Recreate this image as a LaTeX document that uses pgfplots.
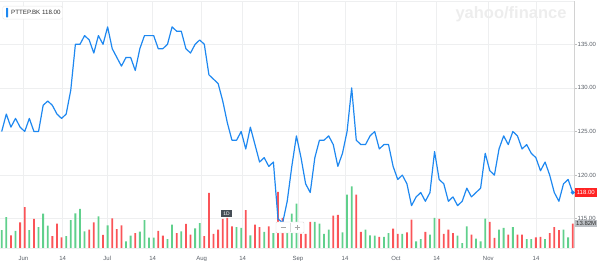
\documentclass[border=0pt]{standalone}
\usepackage{fontspec}
\setmainfont{Liberation Sans}
\usepackage{pgfplots}
\usepackage{pgfplotstable}
\pgfplotsset{compat=1.18}
\definecolor{ylblue}{RGB}{30,136,240}
\definecolor{upg}{RGB}{96,208,140}
\definecolor{dnr}{RGB}{250,84,88}
\definecolor{gridc}{RGB}{238,239,240}
\definecolor{tickc}{RGB}{90,96,104}
\definecolor{redlab}{RGB}{255,35,35}
\definecolor{graylab}{RGB}{188,192,197}

\pgfplotstableread{
i p
0 125
1 127
2 125.5
3 126.5
4 125.5
5 125
6 126.5
7 125
8 125
9 128
10 128.5
11 128
12 127
13 126.5
14 127
15 129.75
16 135
17 135
18 136
19 135.5
20 134
21 136
22 135
23 137
24 134.5
25 133.5
26 132.5
27 133.5
28 133.5
29 132
30 134.5
31 136
32 136
33 136
34 134.5
35 134.5
36 135
37 137
38 136.5
39 136.5
40 134.5
41 134
42 135
43 135.5
44 135
45 131.5
46 131
47 130.5
48 128.5
49 126
50 124
51 124
52 125
53 123
54 125.5
55 123.5
56 121.5
57 122
58 121
59 121.5
60 115
61 114.5
62 117
63 121
64 124.5
65 122
66 119
67 118
68 122
69 124
70 124
71 124.5
72 123.5
73 121
74 122.5
75 125
76 130
77 124
78 123.5
79 123.5
80 124.5
81 125
82 123
83 123.5
84 123.5
85 121
86 119.5
87 120
88 119
89 116.5
90 117.5
91 118
92 117
93 118
94 122.7
95 119.5
96 119
97 117
98 117.5
99 116.5
100 117
101 118.5
102 117.5
103 118
104 118.5
105 122.5
106 120.5
107 120
108 123
109 124.5
110 123.5
111 125
112 124.5
113 123
114 123.5
115 122.5
116 122
117 120.5
118 121.5
119 120
120 118
121 117
122 119
123 119.5
124 118
}\price

\begin{document}
\begin{tikzpicture}
\useasboundingbox (0pt,0pt) rectangle (600pt,261pt);
\pgfplotsset{base/.style={at={(0pt,13pt)}, anchor=south west, width=574pt, height=247pt,
  scale only axis, xmin=-0.37, xmax=124.28}}

% grid + ticks
\begin{axis}[base, ymin=111.64, ymax=139.97,
  axis x line*=bottom, axis y line*=right,
  x axis line style={draw=gridc, -}, y axis line style={draw=gray!35, -},
  xtick={4.73,13.25,22.93,32.79,43.43,52.33,64.34,74.55,85.62,94.46,105.67,116.03},
  xticklabels={Jun,14,Jul,14,Aug,14,Sep,14,Oct,14,Nov,14},
  ytick={115,120,125,130,135},
  xmajorgrids, ymajorgrids, major grid style={draw=gridc, line width=0.6pt},
  tick align=outside, major tick length=2.5pt,
  xtick style={draw=none}, ytick style={draw=gray!50, line width=0.4pt},
  /pgf/number format/assume math mode=true,
  ticklabel style={font=\fontsize{6}{7}\selectfont, text=tickc},
  yticklabel style={/pgf/number format/fixed, /pgf/number format/fixed zerofill,
    /pgf/number format/precision=2, inner sep=1pt},
  xticklabel style={inner sep=0pt, text height=4.6pt, text depth=1.3pt, anchor=north, yshift=-5.5pt},
]
\addplot[draw=none] coordinates {(0,120)};
\end{axis}

% volume
\begin{axis}[base, ymin=0, ymax=140.5, hide axis, ybar, bar width=1.8pt]
\addplot[fill=upg, draw=none, bar shift=0pt] coordinates {
(0,10.1)(1,17.5)(3,9.8)(6,10.1)(8,11.8)(9,19.5)(10,12.7)(14,6.7)(15,15.8)(16,19.7)(17,22.2)(18,9.5)(21,18.0)(23,12.9)(27,3.8)(28,7.0)(30,9.3)(31,15.8)(32,5.9)(33,5.9)(36,5.1)(37,13.3)(39,9.5)(42,11.2)(43,14.2)(51,11.9)(52,11.4)(54,7.2)(57,9.1)(59,8.5)(62,14.2)(63,19.5)(64,25.2)(68,14.8)(69,13.8)(70,8.0)(71,10.4)(74,8.9)(75,30.3)(76,35.1)(79,10.4)(80,7.2)(81,7.0)(83,6.3)(84,8.5)(87,8.1)(90,3.8)(91,5.1)(93,7.6)(94,17.1)(99,7.0)(100,2.8)(101,12.3)(103,5.3)(104,3.8)(105,16.7)(108,10.4)(109,11.4)(111,11.9)(114,5.1)(115,5.1)(118,5.1)(122,10.4)(123,6.1)};
\addplot[fill=dnr, draw=none, bar shift=0pt] coordinates {
(2,7.2)(4,14.6)(5,23.2)(7,16.5)(11,6.7)(12,13.8)(13,6.1)(19,10.4)(20,14.6)(22,7.4)(24,16.9)(25,10.8)(26,12.9)(29,8.5)(34,9.8)(35,7.0)(38,8.5)(40,13.7)(41,7.6)(44,6.7)(45,31.3)(46,8.1)(47,10.4)(48,16.5)(49,17.1)(50,12.3)(53,21.5)(55,13.3)(56,11.8)(58,12.3)(60,31.9)(61,17.1)(65,8.1)(66,8.1)(67,14.8)(72,18.4)(73,18.9)(77,30.3)(78,9.1)(82,6.3)(85,11.0)(86,8.0)(88,8.9)(89,16.1)(92,9.1)(95,16.5)(96,8.0)(97,10.4)(98,8.5)(102,7.6)(106,14.8)(107,5.7)(110,7.6)(112,7.6)(113,7.6)(116,6.1)(117,6.3)(119,8.5)(120,11.8)(121,10.1)(124,13.82)};
\end{axis}

% price line
\begin{axis}[base, ymin=111.64, ymax=139.97, hide axis, clip=false]
\addplot[ylblue, line width=1.2pt, line join=round, mark=none] table[x=i,y=p]{\price};
\addplot[only marks, mark=*, mark size=1.8pt, ylblue] coordinates {(124,118)};
\end{axis}

% top border
\draw[gridc, line width=0.6pt] (0pt,260pt) -- (574pt,260pt);

% legend box
\node[draw=gray!18, fill=white, rounded corners=1.5pt, minimum width=60pt, minimum height=13pt, inner sep=0pt] at (32.7pt,248.3pt) {};
\fill[ylblue, rounded corners=0.5pt] (6pt,243.5pt) rectangle (8.2pt,253pt);
\node[anchor=west, inner sep=0pt, font=\fontsize{6.2}{7}\selectfont, text={rgb,255:red,50;green,50;blue,50}] at (11pt,248.3pt) {PTTEP.BK 118.00};

% watermark
\node[font=\fontsize{16.5}{18}\selectfont\bfseries, text=gray!14] at (511pt,247pt) {yahoo/finance};

% price label
\node[fill=redlab, text=white, font=\fontsize{6}{7}\selectfont, inner sep=0pt, minimum width=21.5pt, minimum height=8.5pt] at (585.8pt,68.5pt) {118.00};
% volume label
\node[fill=graylab, text={rgb,255:red,45;green,45;blue,45}, font=\fontsize{6}{7}\selectfont, inner sep=0pt, minimum width=22.5pt, minimum height=7.5pt] at (586.2pt,37.7pt) {13.82M};

% 1D tag
\node[fill={rgb,255:red,70;green,78;blue,86}, text=white, font=\fontsize{5}{6}\selectfont, inner sep=0pt, minimum width=11.5pt, minimum height=7pt] at (226.5pt,47pt) {1D};
% zoom box
\node[draw=gray!30, fill=white, minimum width=28pt, minimum height=11pt, inner sep=0pt, rounded corners=1pt] at (290pt,33.5pt) {};
\draw[gray!30] (290pt,29pt) -- (290pt,38pt);
\draw[gray!70, line width=0.6pt] (280.5pt,33.5pt) -- (285.5pt,33.5pt);
\draw[gray!70, line width=0.6pt] (294.5pt,33.5pt) -- (299.5pt,33.5pt) (297pt,31pt) -- (297pt,36pt);
\end{tikzpicture}
\end{document}
